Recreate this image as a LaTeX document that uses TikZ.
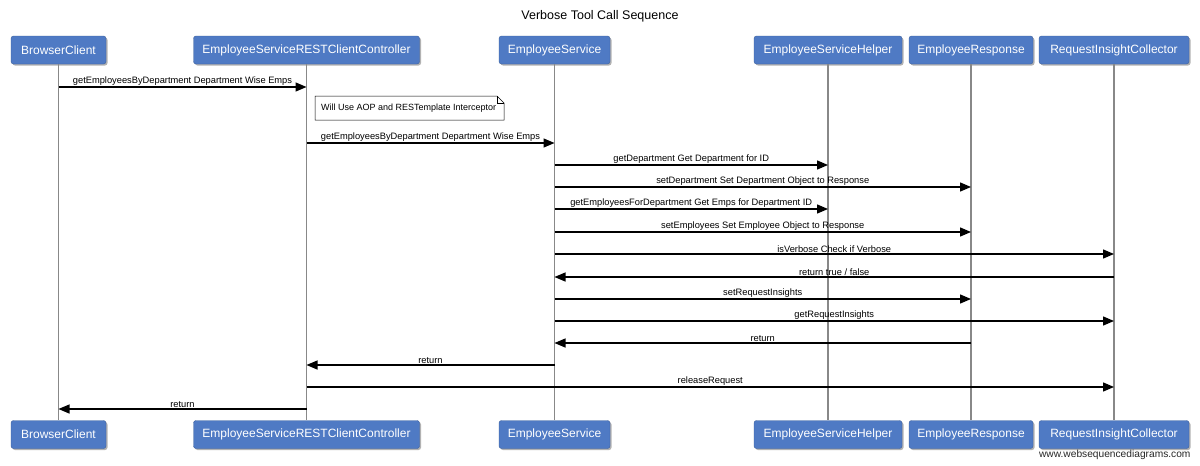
\documentclass[tikz,border=0pt]{standalone}
\usepackage{fontspec}
\setmainfont{Liberation Sans}
\usetikzlibrary{arrows.meta,shadows,calc}
\definecolor{boxblue}{HTML}{4F7AC4}
\definecolor{lifegray}{HTML}{888888}
\begin{document}
\begin{tikzpicture}[x=1pt,y=-1pt,
  actor/.style={draw=boxblue!80!black, line width=0.4pt, fill=boxblue, text=white, rounded corners=2.5pt,
    minimum height=28pt, inner sep=0pt, font=\fontsize{12}{13}\selectfont,
    drop shadow={shadow xshift=1.5pt, shadow yshift=-1.5pt, fill=black!60, opacity=0.5}},
  life/.style={draw=lifegray, line width=1.2pt},
  msg/.style={draw=black, line width=1.3pt, -{Triangle[length=11pt,width=9pt]}},
  lbl/.style={font=\fontsize{9.3}{10}\selectfont, inner sep=1pt, above, midway, yshift=-0.5pt}
]
\useasboundingbox (0,0) rectangle (1200,466);
\fill[white] (0,0) rectangle (1200,466);
\node[font=\fontsize{12.5}{14}\selectfont] (title) at (600,16) {Verbose Tool Call Sequence};

% top actors
\node[actor, minimum width=95pt]  (bc)  at (58.5,50) {BrowserClient};
\node[actor, minimum width=226pt] (esc) at (306.5,50) {EmployeeServiceRESTClientController};
\node[actor, minimum width=111pt] (es)  at (554.5,50) {EmployeeService};
\node[actor, minimum width=148pt] (esh) at (828,50) {EmployeeServiceHelper};
\node[actor, minimum width=124pt] (er)  at (971,50) {EmployeeResponse};
\node[actor, minimum width=150pt] (ric) at (1114,50) {RequestInsightCollector};
% bottom actors
\node[actor, minimum width=95pt]  (bc2)  at (58.5,434.5) {BrowserClient};
\node[actor, minimum width=226pt] (esc2) at (306.5,434.5) {EmployeeServiceRESTClientController};
\node[actor, minimum width=111pt] (es2)  at (554.5,434.5) {EmployeeService};
\node[actor, minimum width=148pt] (esh2) at (828,434.5) {EmployeeServiceHelper};
\node[actor, minimum width=124pt] (er2)  at (971,434.5) {EmployeeResponse};
\node[actor, minimum width=150pt] (ric2) at (1114,434.5) {RequestInsightCollector};

% lifelines
\draw[life] (bc.south) -- (bc2.north);
\draw[life] (esc.south) -- (esc2.north);
\draw[life] (es.south) -- (es2.north);
\draw[life] (esh.south) -- (esh2.north);
\draw[life] (er.south) -- (er2.north);
\draw[life] (ric.south) -- (ric2.north);

% note
\draw[fill=white, line width=0.5pt] (315,96) -- (497,96) -- (504,103) -- (504,120) -- (315,120) -- cycle;
\draw[line width=0.5pt] (497,96) -- (497,103) -- (504,103);
\node[font=\fontsize{9}{10}\selectfont, anchor=west] (note) at (317.5,108.5) {Will Use AOP and RESTemplate Interceptor};

% messages
\draw[msg] (bc |- 0,87) -- node[lbl] {getEmployeesByDepartment Department Wise Emps} (esc |- 0,87);
\draw[msg] (esc |- 0,143) -- node[lbl] {getEmployeesByDepartment Department Wise Emps} (es |- 0,143);
\draw[msg] (es |- 0,165) -- node[lbl] {getDepartment Get Department for ID} (esh |- 0,165);
\draw[msg] (es |- 0,187) -- node[lbl] {setDepartment Set Department Object to Response} (er |- 0,187);
\draw[msg] (es |- 0,209) -- node[lbl] {getEmployeesForDepartment Get Emps for Department ID} (esh |- 0,209);
\draw[msg] (es |- 0,232) -- node[lbl] {setEmployees Set Employee Object to Response} (er |- 0,232);
\draw[msg] (es |- 0,254) -- node[lbl] {isVerbose Check if Verbose} (ric |- 0,254);
\draw[msg] (ric |- 0,277) -- node[lbl] {return true / false} (es |- 0,277);
\draw[msg] (es |- 0,299) -- node[lbl] {setRequestInsights} (er |- 0,299);
\draw[msg] (es |- 0,321) -- node[lbl] {getRequestInsights} (ric |- 0,321);
\draw[msg] (er |- 0,343) -- node[lbl] {return} (es |- 0,343);
\draw[msg] (es |- 0,365) -- node[lbl] {return} (esc |- 0,365);
\draw[msg] (esc |- 0,387) -- node[lbl] {releaseRequest} (ric |- 0,387);
\draw[msg] (esc |- 0,409) -- node[lbl] {return} (bc |- 0,409);

\node[font=\fontsize{10.2}{11}\selectfont, anchor=east, text=black!85] (wm) at (1194,455) {www.websequencediagrams.com};
\end{tikzpicture}
\end{document}
